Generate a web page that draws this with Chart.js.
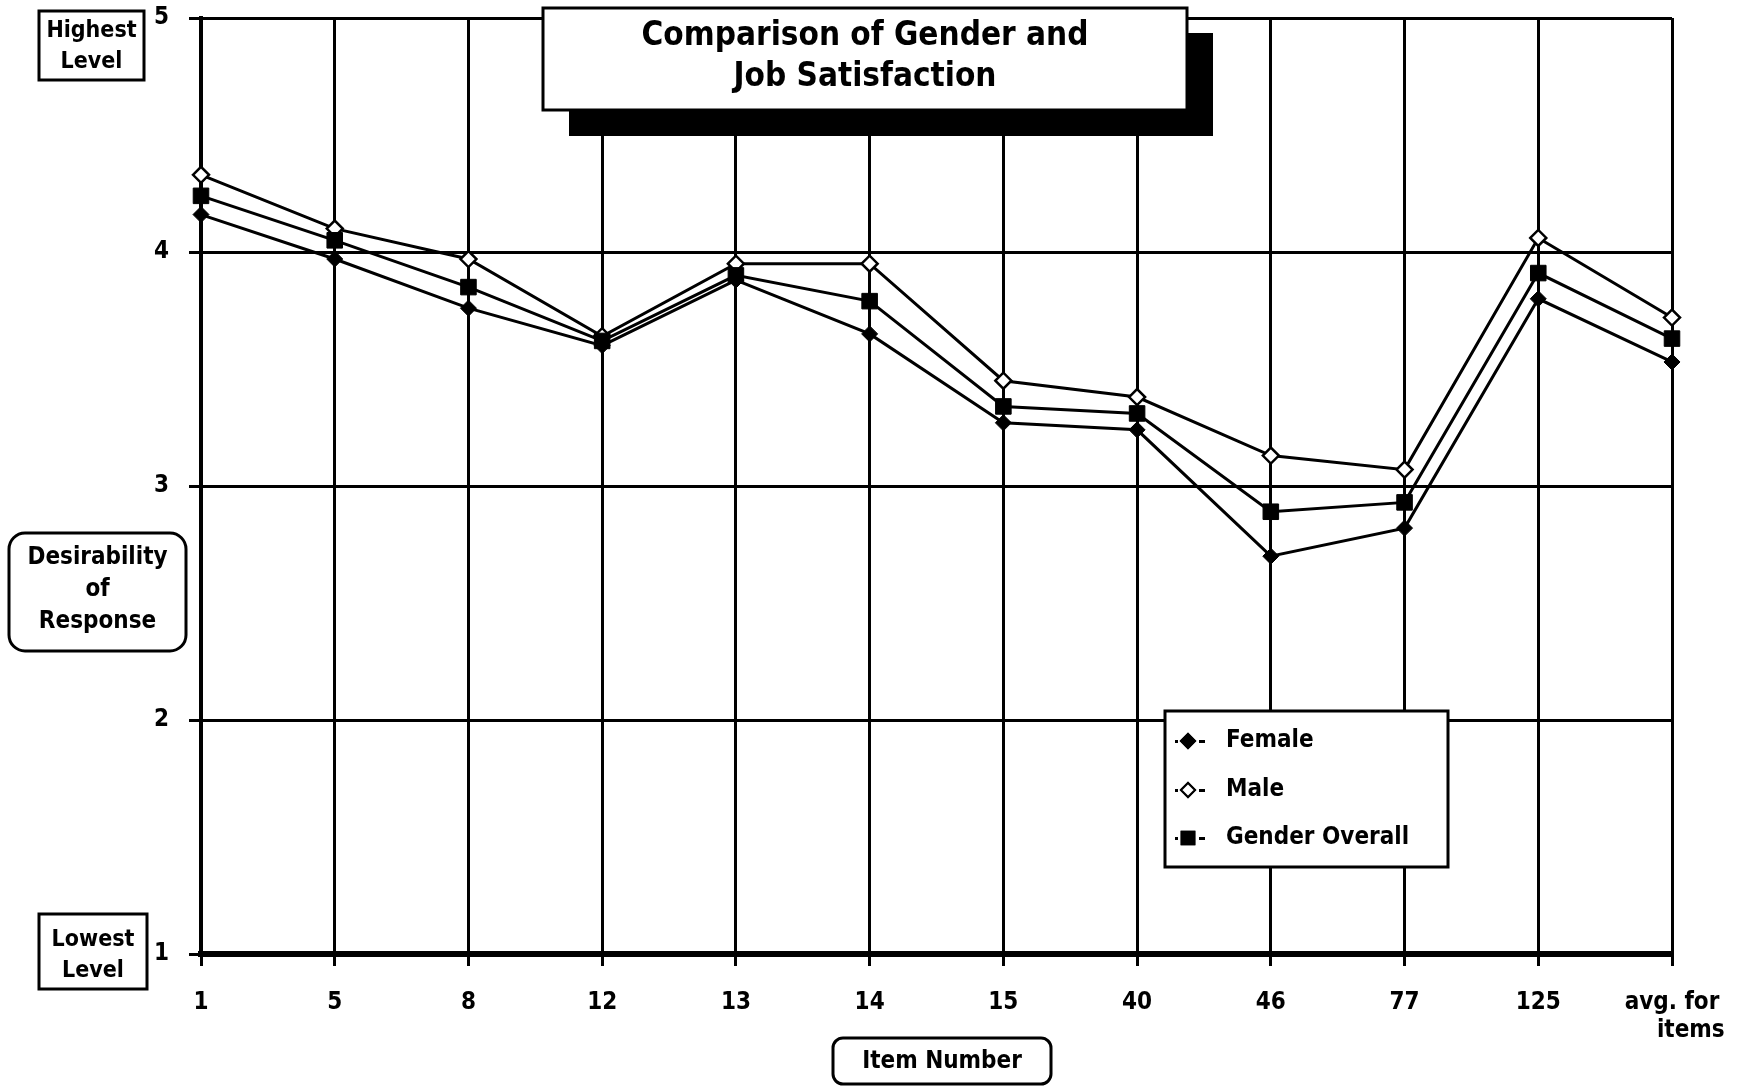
<!DOCTYPE html>
<html>
<head>
<meta charset="utf-8">
<script src="https://cdn.jsdelivr.net/npm/chart.js@4.4.1/dist/chart.umd.min.js"></script>
<style>
  html, body { margin: 0; padding: 0; background: #fff; }
  #wrap { width: 1737px; height: 1086px; position: relative; }
</style>
</head>
<body>
<div id="wrap"><canvas id="chart"></canvas></div>
<script>
// item numbers on the x axis
const itemLabels = ['1', '5', '8', '12', '13', '14', '15', '40', '46', '77', '125', ['avg. for', '     items']]

// mean desirability of response per item
const female = [4.16, 3.97, 3.76, 3.60, 3.88, 3.65, 3.27, 3.24, 2.70, 2.82, 3.80, 3.53]
const male = [4.33, 4.10, 3.97, 3.64, 3.95, 3.95, 3.45, 3.38, 3.13, 3.07, 4.06, 3.72]
const overall = [4.24, 4.05, 3.85, 3.62, 3.90, 3.79, 3.34, 3.31, 2.89, 2.93, 3.91, 3.63]

const yMin = 1
const yMax = 5

const FONT = "'DejaVu Sans Condensed', 'Liberation Sans Narrow', 'DejaVu Sans', sans-serif"

function rectPath(ctx, x, y, w, h, r) {
  ctx.beginPath()
  if (r) {
    ctx.roundRect(x, y, w, h, r)
  } else {
    ctx.rect(x, y, w, h)
  }
}

function labelBox(ctx, x, y, w, h, r, lines, lineYs) {
  rectPath(ctx, x, y, w, h, r)
  ctx.fillStyle = '#fff'
  ctx.fill()
  ctx.lineWidth = 3
  ctx.strokeStyle = '#000'
  ctx.stroke()
  ctx.fillStyle = '#000'
  ctx.textAlign = 'center'
  ctx.textBaseline = 'middle'
  lines.forEach((t, i) => ctx.fillText(t, x + w / 2, lineYs[i]))
}

const decorations = {
  id: 'decorations',
  afterDraw(chart) {
    const ctx = chart.ctx
    ctx.save()

    // title with heavy drop shadow
    ctx.fillStyle = '#000'
    ctx.fillRect(569, 33, 644, 103)
    ctx.font = 'bold 33px ' + FONT
    labelBox(ctx, 543, 8, 644, 102, 0,
      ['Comparison of Gender and', 'Job Satisfaction'], [36, 77])

    ctx.font = 'bold 23px ' + FONT
    labelBox(ctx, 39, 11, 105, 69, 0, ['Highest', 'Level'], [31, 62])
    labelBox(ctx, 39, 914, 108, 75, 0, ['Lowest', 'Level'], [940, 971])
    ctx.font = 'bold 24px ' + FONT
    labelBox(ctx, 9, 533, 177, 118, 16, ['Desirability', 'of', 'Response'], [558, 590, 622])
    labelBox(ctx, 833, 1038, 218, 46, 10, ['Item Number'], [1062])

    // legend
    rectPath(ctx, 1165, 711, 283, 156, 0)
    ctx.fillStyle = '#fff'
    ctx.fill()
    ctx.lineWidth = 3
    ctx.strokeStyle = '#000'
    ctx.stroke()
    const rows = [741, 790, 838]
    chart.data.datasets.forEach((ds, i) => {
      const y = rows[i]
      ctx.fillStyle = '#000'
      ctx.fillRect(1175, y - 1, 3, 3)
      ctx.fillRect(1199, y - 1, 6, 3)
      ctx.lineWidth = 2
      ctx.strokeStyle = '#000'
      ctx.fillStyle = ds.pointBackgroundColor
      Chart.helpers.drawPoint(ctx, {
        pointStyle: ds.pointStyle,
        radius: ds.pointStyle === 'rect' ? 9 : 7,
        rotation: 0,
        borderWidth: 2
      }, 1188, y)
      ctx.fill()
      ctx.stroke()
      ctx.fillStyle = '#000'
      ctx.textAlign = 'left'
      ctx.textBaseline = 'middle'
      ctx.font = 'bold 24px ' + FONT
      ctx.fillText(ds.label, 1226, y)
    })

    ctx.restore()
  }
}

new Chart(document.getElementById('chart'), {
  type: 'line',
  data: {
    labels: itemLabels,
    datasets: [
      {
        label: 'Female',
        data: female,
        borderColor: '#000',
        borderWidth: 3,
        pointStyle: 'rectRot',
        pointRadius: 8,
        pointBackgroundColor: '#000',
        pointBorderColor: '#000',
        pointBorderWidth: 1,
        order: 1
      },
      {
        label: 'Male',
        data: male,
        borderColor: '#000',
        borderWidth: 3,
        pointStyle: 'rectRot',
        pointRadius: 8,
        pointBackgroundColor: '#fff',
        pointBorderColor: '#000',
        pointBorderWidth: 2.5,
        order: 2
      },
      {
        label: 'Gender Overall',
        data: overall,
        borderColor: '#000',
        borderWidth: 3,
        pointStyle: 'rect',
        pointRadius: 11,
        pointBackgroundColor: '#000',
        pointBorderColor: '#000',
        pointBorderWidth: 1,
        order: 0
      }
    ]
  },
  options: {
    responsive: true,
    maintainAspectRatio: false,
    animation: false,
    devicePixelRatio: 1,
    layout: {
      padding: { left: 0, top: 18, right: 65, bottom: 0 }
    },
    plugins: {
      legend: { display: false },
      title: { display: false },
      tooltip: { enabled: false }
    },
    scales: {
      x: {
        grid: {
          color: '#000',
          lineWidth: 3,
          tickLength: 12
        },
        border: { color: '#000', width: 6 },
        ticks: {
          color: '#000',
          padding: 22,
          maxRotation: 0,
          autoSkip: false,
          font: { family: FONT, size: 24, weight: 'bold', lineHeight: 1.2 }
        },
        afterFit(scale) {
          scale.height = 132
          scale.paddingLeft = 0
          scale.paddingRight = 0
        }
      },
      y: {
        min: yMin,
        max: yMax,
        grid: {
          color: '#000',
          lineWidth: 3,
          tickLength: 12
        },
        border: { color: '#000', width: 4 },
        ticks: {
          stepSize: 1,
          color: '#000',
          padding: 20,
          font: { family: FONT, size: 24, weight: 'bold' }
        },
        afterFit(scale) {
          scale.width = 201
          scale.paddingTop = 0
          scale.paddingBottom = 0
        }
      }
    }
  },
  plugins: [decorations]
})
</script>
</body>
</html>
